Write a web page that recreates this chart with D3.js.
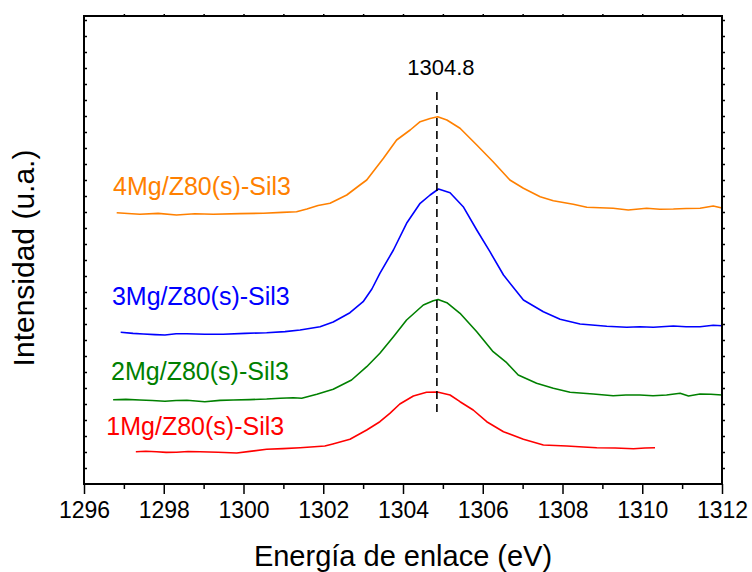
<!DOCTYPE html>
<html>
<head>
<meta charset="utf-8">
<script src="https://cdn.jsdelivr.net/npm/d3@7"></script>
<style>
  body { margin: 0; background: #fff; }
  svg { font-family: "Liberation Sans", Arial, sans-serif; }
</style>
</head>
<body>
<div id="chart"></div>
<script>
// binding energy (eV) / intensity (a.u.)
const sample1Mg = [
  [1297.30, 32.3], [1297.55, 32.7], [1297.82, 32.3], [1298.06, 31.6], [1298.32, 31.7],
  [1298.61, 32.5], [1298.91, 32.3], [1299.36, 31.8], [1299.83, 31.0], [1300.16, 32.6],
  [1300.58, 34.7], [1300.99, 35.4], [1301.42, 36.3], [1302.04, 38.0], [1302.24, 40.0],
  [1302.67, 44.7], [1303.09, 54.0], [1303.42, 62.3], [1303.67, 70.7], [1303.92, 80.0],
  [1304.26, 88.0], [1304.59, 91.7], [1304.86, 92.0], [1305.18, 89.0], [1305.43, 82.3],
  [1305.76, 74.0], [1306.10, 62.3], [1306.52, 52.3], [1307.02, 44.7], [1307.52, 39.0],
  [1308.11, 38.0], [1308.52, 37.0], [1308.86, 36.3], [1309.32, 36.0], [1309.78, 35.3],
  [1310.07, 36.0], [1310.32, 36.3]
];
const sample2Mg = [
  [1296.73, 84.3], [1297.05, 84.6], [1297.40, 84.0], [1297.71, 83.5], [1298.03, 82.7],
  [1298.31, 83.5], [1298.58, 83.7], [1299.03, 82.3], [1299.41, 83.6], [1299.74, 84.0],
  [1300.16, 84.4], [1300.58, 85.0], [1300.92, 85.8], [1301.25, 86.3], [1301.46, 85.7],
  [1301.84, 89.7], [1302.25, 94.7], [1302.71, 104.0], [1303.09, 117.3], [1303.42, 130.7],
  [1303.76, 147.3], [1304.09, 164.0], [1304.51, 179.0], [1304.76, 183.3], [1304.88, 184.5],
  [1305.10, 181.3], [1305.43, 170.7], [1305.85, 152.3], [1306.26, 132.3], [1306.60, 121.3],
  [1306.89, 109.0], [1307.35, 100.7], [1307.77, 95.7], [1308.19, 91.7], [1308.77, 90.0],
  [1309.27, 88.3], [1309.59, 89.0], [1309.94, 89.0], [1310.27, 88.2], [1310.61, 89.0],
  [1310.95, 90.7], [1311.16, 88.0], [1311.45, 90.0], [1311.72, 89.7], [1312.00, 89.0]
];
const sample3Mg = [
  [1296.92, 151.7], [1297.23, 150.6], [1297.49, 150.0], [1297.78, 149.4], [1298.03, 149.0],
  [1298.31, 150.3], [1298.58, 150.3], [1299.03, 149.7], [1299.49, 149.7], [1300.04, 150.6],
  [1300.58, 151.3], [1301.04, 152.4], [1301.42, 154.0], [1301.92, 157.3], [1302.25, 162.0],
  [1302.67, 171.3], [1303.00, 182.3], [1303.22, 195.0], [1303.42, 210.7], [1303.76, 234.0],
  [1304.09, 260.7], [1304.43, 280.7], [1304.68, 289.0], [1304.89, 295.0], [1305.18, 291.3],
  [1305.51, 277.3], [1305.85, 254.0], [1306.18, 232.3], [1306.52, 209.0], [1307.02, 184.0],
  [1307.52, 172.3], [1307.94, 164.7], [1308.44, 160.0], [1309.11, 157.7], [1309.61, 156.7],
  [1309.94, 157.3], [1310.28, 156.7], [1310.78, 158.0], [1311.10, 157.2], [1311.45, 157.3],
  [1311.78, 158.7], [1312.00, 158.3]
];
const sample4Mg = [
  [1296.82, 271.3], [1297.10, 270.5], [1297.40, 269.7], [1297.86, 270.6], [1298.32, 269.0],
  [1298.78, 270.2], [1299.24, 269.7], [1299.91, 270.4], [1300.50, 270.7], [1300.97, 271.6],
  [1301.33, 272.3], [1301.59, 275.0], [1301.87, 278.5], [1302.17, 280.7], [1302.59, 289.0],
  [1302.92, 299.0], [1303.09, 304.0], [1303.51, 325.7], [1303.84, 344.0], [1304.18, 354.0],
  [1304.43, 362.3], [1304.68, 365.5], [1304.87, 367.3], [1305.10, 364.0], [1305.43, 355.7],
  [1305.85, 339.0], [1306.26, 322.3], [1306.68, 304.0], [1307.02, 295.7], [1307.44, 287.3],
  [1307.77, 283.3], [1308.27, 279.7], [1308.61, 276.7], [1308.94, 276.2], [1309.27, 275.7],
  [1309.65, 274.0], [1310.11, 275.7], [1310.44, 274.8], [1310.78, 275.0], [1311.10, 275.5],
  [1311.45, 275.7], [1311.78, 278.0], [1312.00, 276.0]
];

const seriesNames = ['1Mg/Z80(s)-Sil3', '2Mg/Z80(s)-Sil3', '3Mg/Z80(s)-Sil3', '4Mg/Z80(s)-Sil3'];
const seriesData = [sample1Mg, sample2Mg, sample3Mg, sample4Mg];

const peakEnergy = 1304.85;
const peakLabel = '1304.8';
const peakLineRange = [72, 395];

const xTicks = [1296, 1298, 1300, 1302, 1304, 1306, 1308, 1310, 1312];
const xMinorTicks = d3.range(1297, 1312, 2);

const width = 752;
const height = 572;
const margin = { top: 16, right: 30, bottom: 88, left: 84 };
const colors = ['#ff0000', '#008000', '#0000ff', '#ff8000'];
// label anchors (left x, baseline) in data units
const labelPos = [[1296.56, 49], [1296.68, 104], [1296.70, 179], [1296.73, 289]];

const svg = d3.select('#chart')
  .append('svg')
  .attr('width', width)
  .attr('height', height);

const x = d3.scaleLinear()
  .domain([1296, 1312])
  .range([margin.left, width - margin.right]);

const y = d3.scaleLinear()
  .domain([0, 468])
  .range([height - margin.bottom, margin.top]);

const yTicks = d3.range(16, 468, 16);

// curves
const line = d3.line()
  .x((d) => x(d[0]))
  .y((d) => y(d[1]));

seriesData.forEach((s, i) => {
  svg.append('path')
    .datum(s)
    .attr('fill', 'none')
    .attr('stroke', colors[i])
    .attr('stroke-width', 1.6)
    .attr('stroke-linejoin', 'round')
    .attr('d', line);

  svg.append('text')
    .attr('x', x(labelPos[i][0]))
    .attr('y', y(labelPos[i][1]))
    .attr('fill', colors[i])
    .style('font-size', '25px')
    .text(seriesNames[i]);
});

// peak marker
svg.append('line')
  .attr('x1', x(peakEnergy))
  .attr('x2', x(peakEnergy))
  .attr('y1', y(peakLineRange[0]))
  .attr('y2', y(peakLineRange[1]))
  .attr('stroke', '#000')
  .attr('stroke-width', 1.6)
  .attr('stroke-dasharray', '8,5');

svg.append('text')
  .attr('x', x(peakEnergy) + 4)
  .attr('y', y(409))
  .attr('text-anchor', 'middle')
  .style('font-size', '22px')
  .text(peakLabel);

// axes
const axisW = 2;
const bottom = svg.append('g')
  .attr('transform', `translate(0 ${y(0)})`)
  .call(d3.axisBottom(x).tickValues(xTicks).tickSize(10).tickFormat(d3.format('d')));
bottom.selectAll('text')
  .attr('y', 34)
  .attr('dy', 0)
  .style('font-size', '23px')
  .attr('fill', '#000');

svg.append('g')
  .attr('transform', `translate(0 ${y(0)})`)
  .call(d3.axisBottom(x).tickValues(xMinorTicks).tickSize(5).tickFormat(''));

svg.append('g')
  .attr('transform', `translate(0 ${y(468)})`)
  .call(d3.axisTop(x).tickValues(d3.range(1297, 1312, 1)).tickSize(2).tickFormat(''));

svg.append('g')
  .attr('transform', `translate(${x(1296)} 0)`)
  .call(d3.axisLeft(y).tickValues(yTicks).tickSize(-3).tickFormat(''));

svg.append('g')
  .attr('transform', `translate(${x(1312)} 0)`)
  .call(d3.axisRight(y).tickValues(yTicks).tickSize(3).tickFormat(''));

svg.selectAll('.domain').remove();
svg.selectAll('.tick line')
  .attr('stroke', '#000')
  .attr('stroke-width', 1.5);

svg.append('rect')
  .attr('x', x(1296))
  .attr('y', y(468))
  .attr('width', x(1312) - x(1296))
  .attr('height', y(0) - y(468))
  .attr('fill', 'none')
  .attr('stroke', '#000')
  .attr('stroke-width', axisW);

// axis titles
svg.append('text')
  .attr('x', (x(1296) + x(1312)) / 2)
  .attr('y', 566)
  .attr('text-anchor', 'middle')
  .style('font-size', '29px')
  .text('Energía de enlace (eV)');

svg.append('text')
  .attr('transform', `translate(34 ${(y(0) + y(468)) / 2 + 8}) rotate(-90)`)
  .attr('text-anchor', 'middle')
  .style('font-size', '30px')
  .text('Intensidad (u.a.)');
</script>
</body>
</html>
